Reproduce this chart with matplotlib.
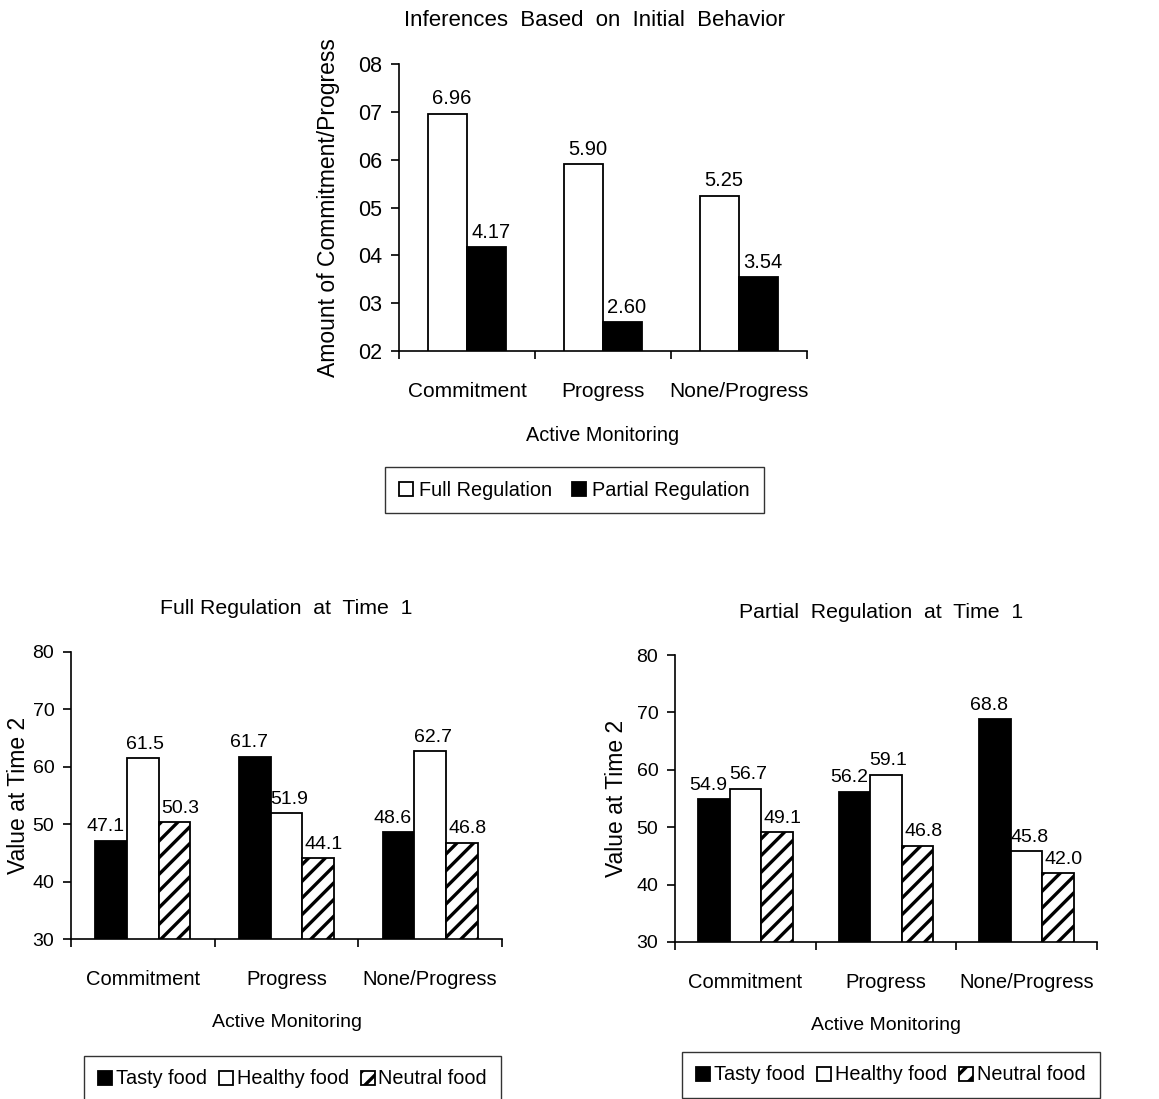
import matplotlib
matplotlib.use("Agg")
import matplotlib.pyplot as plt
import numpy as np
from matplotlib.ticker import FormatStrFormatter

plt.rcParams['font.family'] = ['Liberation Sans', 'DejaVu Sans']
plt.rcParams['hatch.linewidth'] = 2.4

categories = ["Commitment", "Progress", "None/Progress"]

# Top chart
top_full = [6.96, 5.90, 5.25]
top_partial = [4.17, 2.60, 3.54]

# Bottom-left: Full Regulation at Time 1
fr_tasty = [47.1, 61.7, 48.6]
fr_healthy = [61.5, 51.9, 62.7]
fr_neutral = [50.3, 44.1, 46.8]

# Bottom-right: Partial Regulation at Time 1
pr_tasty = [54.9, 56.2, 68.8]
pr_healthy = [56.7, 59.1, 45.8]
pr_neutral = [49.1, 46.8, 42.0]

W, H = 1159, 1099
fig = plt.figure(figsize=(W / 100, H / 100), dpi=100)


def px_axes(l, r, t, b):
    return fig.add_axes([l / W, (H - b) / H, (r - l) / W, (b - t) / H])


def style(ax, ylim, yticks, fmt, title, ylabel, fs, yfs, tfs, xlfs, ylpad, xlpad, tx):
    x = np.arange(len(categories))
    ax.set_xlim(-0.5, len(categories) - 0.5)
    ax.set_ylim(*ylim)
    ax.set_yticks(yticks)
    ax.yaxis.set_major_formatter(FormatStrFormatter(fmt))
    ax.set_xticks(x)
    ax.set_xticklabels(categories, fontsize=fs)
    ax.set_xticks(np.arange(-0.5, len(categories)), minor=True)
    ax.tick_params(axis='x', which='major', length=0, pad=22)
    ax.tick_params(axis='x', which='minor', length=6, direction='out', width=1.2)
    ax.tick_params(axis='y', length=6, direction='out', width=1.2, labelsize=yfs, pad=6)
    for s in ['top', 'right']:
        ax.spines[s].set_visible(False)
    for s in ['left', 'bottom']:
        ax.spines[s].set_linewidth(1.2)
    ax.set_xlabel("Active Monitoring", fontsize=xlfs, labelpad=xlpad)
    ax.set_ylabel(ylabel, fontsize=16.5, labelpad=ylpad)
    ax.set_title(title, fontsize=tfs, pad=27, x=tx)


def value_labels(ax, bars, fmt, dx_pt, fs):
    for p in bars.patches:
        ax.annotate(fmt % p.get_height(), (p.get_x() + p.get_width() / 2, p.get_height()),
                    xytext=(dx_pt, 4), textcoords='offset points', ha='center', va='bottom',
                    fontsize=fs)


# Top chart
ax1 = px_axes(399, 807, 64, 351)
x = np.arange(len(categories))
w = 0.29
b1 = ax1.bar(x - w / 2, top_full, w, color='white', edgecolor='black', linewidth=1.3, label='Full Regulation')
b2 = ax1.bar(x + w / 2, top_partial, w, color='black', edgecolor='black', linewidth=1.3, label='Partial Regulation')
style(ax1, (2, 8), range(2, 9), '%02d', "Inferences  Based  on  Initial  Behavior",
      "Amount of Commitment/Progress", 15, 15.5, 16, 14.3, 13, 18, 0.478)
value_labels(ax1, b1, '%.2f', 3, 14.5)
value_labels(ax1, b2, '%.2f', 3, 14.5)
leg = fig.legend(handles=[b1, b2], loc='center', bbox_to_anchor=(574.5 / W, 1 - 490 / H), ncol=2,
                 fontsize=14.3, frameon=True, fancybox=False, edgecolor='black', handlelength=0.7,
                 handleheight=0.7, handletextpad=0.3, columnspacing=1.0, borderpad=0.7)
leg.get_frame().set_linewidth(1.0)


def three(ax, tasty, healthy, neutral, w, title, legend_center, ylpad, tx):
    bt = ax.bar(x - w, tasty, w, color='black', edgecolor='black', linewidth=1.3, label='Tasty food')
    bh = ax.bar(x, healthy, w, color='white', edgecolor='black', linewidth=1.3, label='Healthy food')
    bn = ax.bar(x + w, neutral, w, color='white', edgecolor='black', linewidth=1.3, hatch='//', label='Neutral food')
    style(ax, (30, 80), range(30, 81, 10), '%d', title, "Value at Time 2", 14.5, 14, 15.3, 14, ylpad, 18, tx)
    value_labels(ax, bt, '%.1f', -4, 14)
    value_labels(ax, bh, '%.1f', 1.8, 14)
    value_labels(ax, bn, '%.1f', 4, 14)
    leg = fig.legend(handles=[bt, bh, bn], loc='center',
                     bbox_to_anchor=(legend_center[0] / W, 1 - legend_center[1] / H), ncol=3,
                     fontsize=14.3, frameon=True, fancybox=False, edgecolor='black', handlelength=0.7,
                     handleheight=0.7, handletextpad=0.2, columnspacing=0.6, borderpad=0.7)
    leg.get_frame().set_linewidth(1.0)


ax2 = px_axes(71, 502, 652, 939)
three(ax2, fr_tasty, fr_healthy, fr_neutral, 0.22, "Full Regulation  at  Time  1", (292.5, 1079), 2, 0.5)

ax3 = px_axes(675, 1097, 655, 942)
three(ax3, pr_tasty, pr_healthy, pr_neutral, 0.225, "Partial  Regulation  at  Time  1", (891, 1075), 6, 0.489)

fig.savefig("out.png", dpi=100)
